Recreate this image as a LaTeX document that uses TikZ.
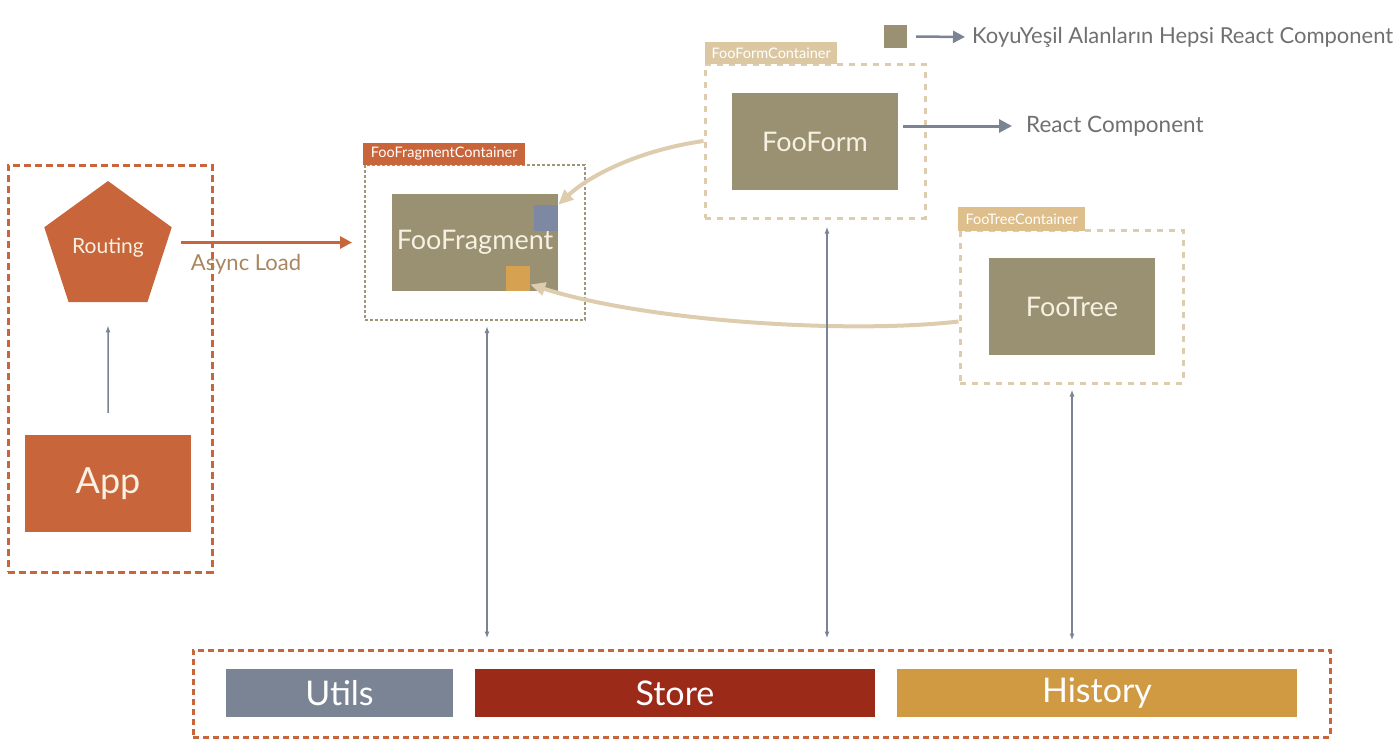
\documentclass[tikz,border=0pt]{standalone}
\usepackage{fontspec}
\setmainfont{Lato}
\usetikzlibrary{arrows.meta,shapes.geometric}
\definecolor{rust}{RGB}{200,101,58}
\definecolor{olive}{RGB}{154,145,114}
\definecolor{paper}{RGB}{246,241,226}
\definecolor{sand}{RGB}{221,205,174}
\definecolor{sandtag}{RGB}{219,200,162}
\definecolor{goldtag}{RGB}{222,190,138}
\definecolor{frag}{RGB}{160,150,120}
\definecolor{slate}{RGB}{122,132,148}
\definecolor{brick}{RGB}{155,42,24}
\definecolor{gold}{RGB}{207,154,66}
\definecolor{amber}{RGB}{214,162,82}
\definecolor{steel}{RGB}{125,137,162}
\definecolor{ink}{RGB}{112,112,112}
\definecolor{asynctext}{RGB}{170,134,94}

\begin{document}
\begin{tikzpicture}[x=1pt, y=-1pt,
		comp/.style={fill=olive, text=paper, minimum width=166pt, minimum height=97pt, inner sep=0pt, font=\fontsize{27}{32}\selectfont},
		tag/.style={text=white, inner sep=0pt, minimum height=22pt, anchor=south west, font=\fontsize{14.5}{17}\selectfont},
		lib/.style={text=white, minimum height=48pt, inner sep=0pt, font=\fontsize{34}{38}\selectfont},
		link/.style={line width=4pt, draw=sand, -{Triangle[length=15pt,width=13pt]}},
		dataline/.style={line width=1.5pt, draw=slate, {Latex[length=7pt,width=5pt]}-{Latex[length=7pt,width=5pt]}}]
	\useasboundingbox (0,0) rectangle (1400,755);

	\node[draw=rust, line width=3pt, dash pattern=on 7pt off 4pt, minimum width=204pt, minimum height=407pt] (shell) at (110,368.5) {};
	\node[regular polygon, regular polygon sides=5, fill=rust, text=paper, minimum size=134pt, inner sep=0pt, font=\fontsize{21}{25}\selectfont] (routing) at (108,248) {Routing};
	\node[fill=rust, text=paper, minimum width=166pt, minimum height=97pt, inner sep=0pt, font=\fontsize{36}{40}\selectfont] (app) at (108,483.5) {App};
	\draw[line width=1.5pt, slate, -{Latex[length=7pt,width=5pt]}, shorten <=22pt, shorten >=23pt] (app.north) -- (routing.south);

	\node[draw=frag, line width=2pt, dash pattern=on 3pt off 2pt, minimum width=220pt, minimum height=155pt] (fragcont) at (475,242.5) {};
	\node[tag, fill=rust, minimum width=162pt] (fragtag) at (363,165) {FooFragmentContainer};
	\node[comp] (fragment) at (475,242) {FooFragment};
	\node[fill=steel, minimum width=24pt, minimum height=26pt, inner sep=0pt] (formin) at (546,218) {};
	\node[fill=amber, minimum width=24pt, minimum height=25pt, inner sep=0pt] (treein) at (518,278.5) {};

	\draw[line width=3pt, rust, -{Triangle[length=12pt,width=12pt]}, shorten <=16pt, shorten >=12pt] (routing.east |- fragcont.west) -- (fragcont.west);
	\node[text=asynctext, font=\fontsize{22}{26}\selectfont] (asynclbl) at (246,264) {Async Load};

	\node[draw=sand, line width=3pt, dash pattern=on 6pt off 6pt, minimum width=220pt, minimum height=154pt] (formcont) at (815,141) {};
	\node[tag, fill=sandtag, minimum width=132pt] (formtag) at (705,64) {FooFormContainer};
	\node[comp] (form) at (815,141.5) {FooForm};

	\node[draw=sand, line width=3pt, dash pattern=on 6pt off 6pt, minimum width=223pt, minimum height=153pt] (treecont) at (1071.5,306.5) {};
	\node[tag, fill=goldtag, minimum width=127pt, minimum height=24pt] (treetag) at (958,231) {FooTreeContainer};
	\node[comp] (tree) at (1072,306.5) {FooTree};

	\node[text=ink, anchor=west, inner sep=0pt, font=\fontsize{22.5}{26}\selectfont] (rc) at (1026,126) {React Component};
	\draw[line width=3pt, slate, -{Triangle[length=13pt,width=13pt]}, shorten <=5pt, shorten >=14pt] (form.east |- rc.west) -- (rc.west);

	\draw[link] (formcont.west) .. controls (640,150) and (590,175) .. (formin.north east);
	\draw[link] ([yshift=-15pt]treecont.west) .. controls (850,334) and (650,322) .. ([yshift=-6pt]treein.east);

	\node[draw=rust, line width=3pt, dash pattern=on 6pt off 4pt, minimum width=1137pt, minimum height=87pt] (shared) at (761.5,693.5) {};
	\node[lib, fill=slate, minimum width=227pt] (utils) at (339.5,693) {Utils};
	\node[lib, fill=brick, minimum width=400pt] (store) at (675,693) {Store};
	\node[lib, fill=gold, minimum width=400pt] (history) at (1097,693) {History};

	\draw[dataline, shorten <=5pt, shorten >=10pt] ([xshift=12pt]fragcont.south) -- ([xshift=12pt]fragcont.south |- shared.north);
	\draw[dataline, shorten <=7pt, shorten >=10pt] ([xshift=12pt]formcont.south) -- ([xshift=12pt]formcont.south |- shared.north);
	\draw[dataline, shorten <=5pt, shorten >=8pt] ([xshift=0.5pt]treecont.south) -- ([xshift=0.5pt]treecont.south |- shared.north);

	\node[fill=olive, minimum width=23pt, minimum height=23pt, inner sep=0pt] (key) at (895.5,36.5) {};
	\node[text=ink, anchor=west, inner sep=0pt, font=\fontsize{22}{26}\selectfont] (keytext) at (972,37) {KoyuYeşil Alanların Hepsi React Component};
	\draw[line width=2.5pt, slate, -{Triangle[length=12pt,width=12pt]}, shorten <=9pt, shorten >=7pt] (key.east) -- (keytext.west);
\end{tikzpicture}
\end{document}
